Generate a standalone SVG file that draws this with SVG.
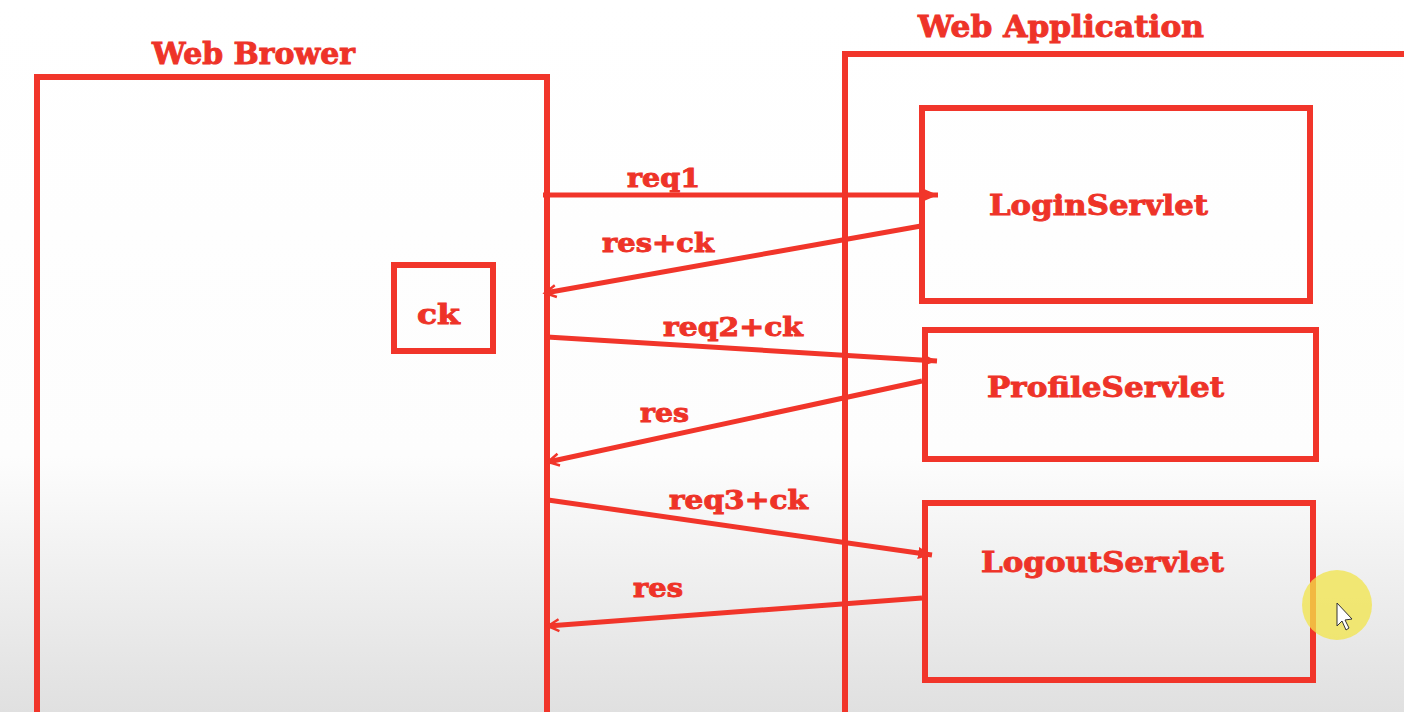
<svg xmlns="http://www.w3.org/2000/svg" width="1404" height="712" viewBox="0 0 1404 712">
  <defs>
    <linearGradient id="bg" x1="0" y1="0" x2="0" y2="1">
      <stop offset="0" stop-color="#ffffff"/>
      <stop offset="0.64" stop-color="#fdfdfd"/>
      <stop offset="1" stop-color="#e0e0e0"/>
    </linearGradient>
    <marker id="fill" markerUnits="userSpaceOnUse" markerWidth="16" markerHeight="14" refX="14" refY="7" orient="auto">
      <path d="M0,1 L14,7 L0,13 Z" fill="#F1352A"/>
    </marker>
    <marker id="open" markerUnits="userSpaceOnUse" markerWidth="16" markerHeight="16" refX="13" refY="8" orient="auto">
      <path d="M2,2 L13,8 L2,14" fill="none" stroke="#F1352A" stroke-width="2.5"/>
    </marker>
    <style>
      .box { fill: none; stroke: #F1352A; stroke-width: 6; }
      .lbl { font-family: "DejaVu Serif", "Liberation Serif", serif; font-weight: bold; fill: #EE3328; stroke: #EE3328; stroke-width: 0.9; }
      .title { font-size: 29px; }
      .node { font-size: 28px; }
      .edge { font-size: 26px; }
      .req { fill: none; stroke: #F1352A; stroke-width: 5; marker-end: url(#fill); }
      .res { fill: none; stroke: #F1352A; stroke-width: 5; marker-end: url(#open); }
    </style>
  </defs>

  <rect x="0" y="0" width="1404" height="712" fill="url(#bg)"/>

  <g id="web-browser">
    <rect class="box" x="37" y="77" width="510" height="660"/>
    <text class="lbl title" x="152" y="64" textLength="203" lengthAdjust="spacingAndGlyphs">Web Brower</text>
  </g>

  <g id="ck">
    <rect class="box" x="394" y="265" width="99" height="86"/>
    <text class="lbl node" x="417" y="324" textLength="43" lengthAdjust="spacingAndGlyphs">ck</text>
  </g>

  <g id="web-application">
    <rect class="box" x="845" y="54" width="600" height="700"/>
    <text class="lbl title" x="918" y="37" textLength="286" lengthAdjust="spacingAndGlyphs">Web Application</text>
  </g>

  <g id="login-servlet">
    <rect class="box" x="922" y="108" width="388" height="193"/>
    <text class="lbl node" x="989" y="215" textLength="219" lengthAdjust="spacingAndGlyphs">LoginServlet</text>
  </g>

  <g id="profile-servlet">
    <rect class="box" x="925" y="330" width="391" height="129"/>
    <text class="lbl node" x="987" y="397" textLength="237" lengthAdjust="spacingAndGlyphs">ProfileServlet</text>
  </g>

  <g id="logout-servlet">
    <rect class="box" x="925" y="503" width="388" height="177"/>
    <text class="lbl node" x="981" y="572" textLength="243" lengthAdjust="spacingAndGlyphs">LogoutServlet</text>
  </g>

  <g id="connectors">
    <line class="req" x1="543" y1="195" x2="938" y2="195"/>
    <line class="res" x1="921" y1="226" x2="545" y2="293"/>
    <line class="req" x1="547" y1="337" x2="937" y2="361"/>
    <line class="res" x1="922" y1="381" x2="548" y2="462"/>
    <line class="req" x1="548" y1="500" x2="932" y2="555"/>
    <line class="res" x1="922" y1="598" x2="548" y2="626"/>
    <text class="lbl edge" x="627" y="187" textLength="73" lengthAdjust="spacingAndGlyphs">req1</text>
    <text class="lbl edge" x="602" y="252" textLength="112" lengthAdjust="spacingAndGlyphs">res+ck</text>
    <text class="lbl edge" x="663" y="336" textLength="140" lengthAdjust="spacingAndGlyphs">req2+ck</text>
    <text class="lbl edge" x="640" y="422" textLength="49" lengthAdjust="spacingAndGlyphs">res</text>
    <text class="lbl edge" x="669" y="509" textLength="139" lengthAdjust="spacingAndGlyphs">req3+ck</text>
    <text class="lbl edge" x="633" y="597" textLength="50" lengthAdjust="spacingAndGlyphs">res</text>
  </g>

  <g id="cursor">
    <circle cx="1337" cy="605" r="35" fill="#F2E44A" fill-opacity="0.75"/>
    <path d="M1337,603 L1337,626 L1342,621 L1346,630 L1349,628 L1345,620 L1352,619 Z" fill="#ffffff" stroke="#333333" stroke-width="1"/>
  </g>
</svg>
